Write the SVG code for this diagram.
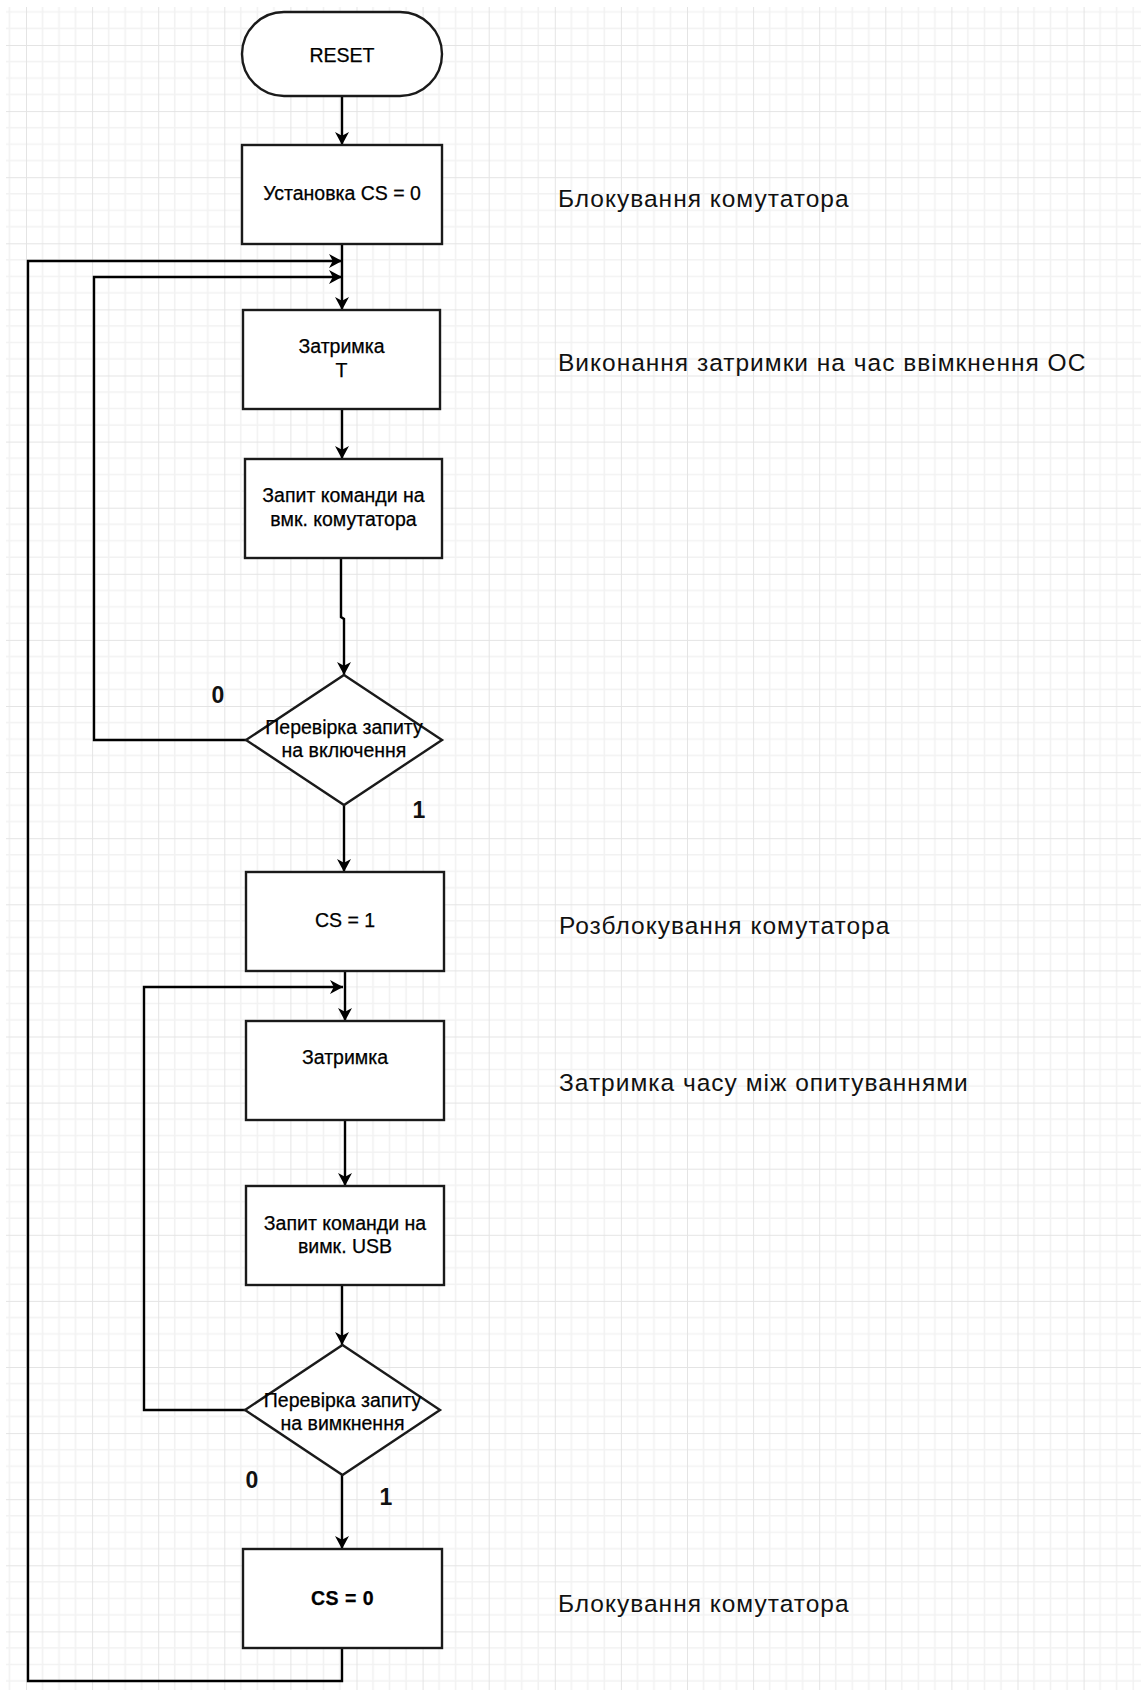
<svg xmlns="http://www.w3.org/2000/svg" width="1141" height="1690" viewBox="0 0 1141 1690">
  <defs>
    <!-- background grid: major cells with four minor steps each -->
    <pattern id="grid" patternUnits="userSpaceOnUse" x="26" y="45" width="66.1" height="66.1">
      <g stroke="#f2f2f2" stroke-width="1.6">
        <line x1="16.5" y1="0" x2="16.5" y2="66.1"/>
        <line x1="33.05" y1="0" x2="33.05" y2="66.1"/>
        <line x1="49.6" y1="0" x2="49.6" y2="66.1"/>
        <line x1="0" y1="16.5" x2="66.1" y2="16.5"/>
        <line x1="0" y1="33.05" x2="66.1" y2="33.05"/>
        <line x1="0" y1="49.6" x2="66.1" y2="49.6"/>
      </g>
      <g stroke="#e4e4e4" stroke-width="2">
        <line x1="0" y1="0" x2="0" y2="66.1"/>
        <line x1="0" y1="0" x2="66.1" y2="0"/>
      </g>
    </pattern>
    <marker id="arrow" markerUnits="userSpaceOnUse" markerWidth="15" markerHeight="15" refX="13" refY="7" orient="auto">
      <path d="M0,0 L13,7 L0,14 L3.8,7 Z" fill="#000"/>
    </marker>
    <style>
      .shape { fill: #fff; stroke: #1a1a1a; stroke-width: 2.4; }
      .edge { fill: none; stroke: #000; stroke-width: 2.4; }
      .label { font-family: "Liberation Sans", Arial, sans-serif; font-size: 19.5px; fill: #000; stroke: #000; stroke-width: 0.25; text-anchor: middle; }
      .note { font-family: "Liberation Sans", Arial, sans-serif; font-size: 24.5px; letter-spacing: 1px; fill: #111; }
      .branch { font-family: "Liberation Sans", Arial, sans-serif; font-size: 23px; font-weight: bold; fill: #111; text-anchor: middle; }
    </style>
  </defs>

  <rect width="1141" height="1690" fill="#fff"/>
  <rect x="6" y="7" width="1135" height="1683" fill="url(#grid)"/>

  <!-- connectors -->
  <g id="connectors">
    <line class="edge" x1="342" y1="96" x2="342" y2="145" marker-end="url(#arrow)"/>
    <line class="edge" x1="342" y1="244" x2="342" y2="310" marker-end="url(#arrow)"/>
    <line class="edge" x1="342" y1="409" x2="342" y2="459" marker-end="url(#arrow)"/>
    <polyline class="edge" points="341,558 341,617 344,619 344,675" marker-end="url(#arrow)"/>
    <line class="edge" x1="344" y1="805" x2="344" y2="872" marker-end="url(#arrow)"/>
    <line class="edge" x1="345" y1="971" x2="345" y2="1021" marker-end="url(#arrow)"/>
    <line class="edge" x1="345" y1="1120" x2="345" y2="1186" marker-end="url(#arrow)"/>
    <line class="edge" x1="342" y1="1285" x2="342" y2="1345" marker-end="url(#arrow)"/>
    <line class="edge" x1="342" y1="1475" x2="342" y2="1549" marker-end="url(#arrow)"/>
    <!-- retry loop: no switch-on request -->
    <polyline class="edge" points="246,740 94,740 94,277 342,277" marker-end="url(#arrow)"/>
    <!-- polling loop: no switch-off request -->
    <polyline class="edge" points="245,1410 144,1410 144,987 343,987" marker-end="url(#arrow)"/>
    <!-- return to start after lock -->
    <polyline class="edge" points="342,1648 342,1681 28,1681 28,261 342,261" marker-end="url(#arrow)"/>
  </g>

  <!-- nodes -->
  <g id="reset">
    <rect class="shape" x="242" y="12" width="200" height="84" rx="42" ry="42"/>
    <text class="label" x="342" y="62">RESET</text>
  </g>
  <g id="set-cs0">
    <rect class="shape" x="242" y="145" width="200" height="99"/>
    <text class="label" x="342" y="200">Установка CS = 0</text>
  </g>
  <g id="delay-t">
    <rect class="shape" x="243" y="310" width="197" height="99"/>
    <text class="label" x="341.5" y="353">Затримка</text>
    <text class="label" x="341.5" y="377">T</text>
  </g>
  <g id="request-on">
    <rect class="shape" x="245" y="459" width="197" height="99"/>
    <text class="label" x="343.5" y="502">Запит команди на</text>
    <text class="label" x="343.5" y="526">вмк. комутатора</text>
  </g>
  <g id="check-on">
    <polygon class="shape" points="344,675 442,740 344,805 246,740"/>
    <text class="label" x="344" y="734">Перевірка запиту</text>
    <text class="label" x="344" y="757">на включення</text>
  </g>
  <g id="set-cs1">
    <rect class="shape" x="246" y="872" width="198" height="99"/>
    <text class="label" x="345" y="927">CS = 1</text>
  </g>
  <g id="delay">
    <rect class="shape" x="246" y="1021" width="198" height="99"/>
    <text class="label" x="345" y="1064">Затримка</text>
  </g>
  <g id="request-off">
    <rect class="shape" x="246" y="1186" width="198" height="99"/>
    <text class="label" x="345" y="1230">Запит команди на</text>
    <text class="label" x="345" y="1253">вимк. USB</text>
  </g>
  <g id="check-off">
    <polygon class="shape" points="342.5,1345 440,1410 342.5,1475 245,1410"/>
    <text class="label" x="342.5" y="1407">Перевірка запиту</text>
    <text class="label" x="342.5" y="1430">на вимкнення</text>
  </g>
  <g id="clear-cs">
    <rect class="shape" x="243" y="1549" width="199" height="99"/>
    <text class="label" x="342.5" y="1605" font-weight="bold" font-size="18.5" letter-spacing="0.5">CS = 0</text>
  </g>

  <!-- branch labels -->
  <g id="branch-labels">
    <text class="branch" x="218" y="703">0</text>
    <text class="branch" x="419" y="818">1</text>
    <text class="branch" x="252" y="1488">0</text>
    <text class="branch" x="386" y="1505">1</text>
  </g>

  <!-- step notes -->
  <g id="notes">
    <text class="note" x="558" y="207">Блокування комутатора</text>
    <text class="note" x="558" y="371">Виконання затримки на час ввімкнення ОС</text>
    <text class="note" x="559" y="934">Розблокування комутатора</text>
    <text class="note" x="559" y="1091">Затримка часу між опитуваннями</text>
    <text class="note" x="558" y="1612">Блокування комутатора</text>
  </g>
</svg>
